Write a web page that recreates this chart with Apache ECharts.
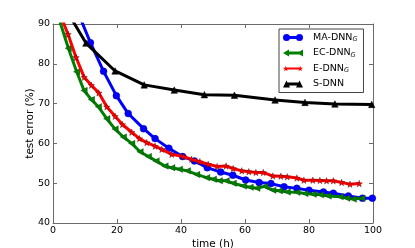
<!DOCTYPE html>
<html>
<head>
<meta charset="utf-8">
<script src="https://cdn.jsdelivr.net/npm/echarts@6/dist/echarts.min.js"></script>
<style>html,body{margin:0;padding:0;background:#fff;}#c{width:415px;height:248px;}</style>
</head>
<body>
<div id="c"></div>
<script>
// ---- data ----
var seriesNames = ['MA-DNN_G', 'EC-DNN_G', 'E-DNN_G', 'S-DNN'];
var xTicks = [0, 20, 40, 60, 80, 100];
var yTicks = [40, 50, 60, 70, 80, 90];

var maX = [7.5, 11.7, 15.8, 19.8, 23.5, 28.3, 31.9, 36.2, 40.5, 44.2, 48.2, 52.4, 56.2, 60.2, 64.4, 68.1, 72.2, 76.2, 80.0, 84.5, 87.6, 92.3, 96.7, 99.8];
var maY = [93.5, 85.3, 78.1, 72.0, 67.5, 63.7, 61.2, 58.8, 56.7, 55.6, 53.9, 52.8, 52.0, 50.8, 50.2, 49.9, 49.1, 48.7, 48.25, 47.8, 47.5, 46.8, 46.25, 46.25];

var ecX = [2.2, 4.8, 7.4, 9.7, 12.0, 14.2, 16.8, 19.4, 22.0, 24.6, 27.2, 29.8, 32.2, 35.0, 37.1, 39.5, 42.0, 44.9, 48.0, 50.1, 52.0, 54.1, 56.3, 59.5, 61.6, 63.7, 66.2, 68.7, 70.7, 73.2, 76.2, 78.7, 81.3, 83.6, 86.0, 89.7, 91.8, 93.8, 96.5];
var ecY = [90.5, 83.9, 78.0, 73.3, 71.0, 69.2, 66.2, 63.6, 61.6, 60.0, 57.9, 56.7, 55.6, 54.3, 53.9, 53.5, 53.1, 52.2, 51.4, 51.0, 50.6, 50.6, 50.0, 49.3, 49.0, 48.75, 49.2, 48.25, 48.1, 47.8, 47.7, 47.4, 47.25, 47.1, 46.8, 46.6, 46.25, 46.0, 46.2];

var eX = [2.2, 4.7, 7.2, 9.75, 12.0, 14.3, 16.8, 19.4, 21.7, 24.6, 27.0, 29.3, 31.9, 34.0, 37.1, 40.7, 43.3, 45.9, 48.5, 51.3, 54.1, 56.3, 59.0, 61.2, 63.4, 65.7, 68.7, 71.2, 73.2, 76.2, 78.4, 81.2, 83.4, 85.5, 87.6, 90.2, 92.8, 95.7];
var eY = [92.5, 87.4, 81.6, 76.6, 74.6, 72.7, 69.2, 66.8, 64.75, 62.8, 61.2, 60.2, 59.3, 58.5, 57.25, 56.7, 56.0, 55.4, 54.75, 54.2, 54.3, 53.7, 53.1, 52.9, 52.7, 52.7, 51.8, 51.75, 51.6, 51.3, 50.75, 50.75, 50.7, 50.6, 50.6, 50.2, 49.75, 49.9];

var sX = [1.2, 10.3, 19.4, 28.5, 37.9, 47.3, 56.7, 69.4, 78.75, 88.1, 99.6];
var sY = [97.5, 85.2, 78.2, 74.7, 73.4, 72.25, 72.1, 70.9, 70.3, 69.9, 69.8];

// ---- helpers ----
function pairs(xs, ys) { return xs.map(function (x, i) { return [x, ys[i]]; }); }
var FONT = 'DejaVu Sans';
var FRAME = '#6a6a6a';
var STAR = 'path://M10,0L12.35,6.76L19.51,6.91L13.8,11.24L15.88,18.09L10,14L4.12,18.09L6.2,11.24L0.49,6.91L7.65,6.76Z';

var iconMA = 'path://M0,3.5A3.5,3.5,0,1,1,7,3.5A3.5,3.5,0,1,1,0,3.5Z M3.5,2L16.5,2L16.5,5L3.5,5Z M13,3.5A3.5,3.5,0,1,1,20,3.5A3.5,3.5,0,1,1,13,3.5Z';
var iconEC = 'path://M0,3.5L6,0L6,7Z M3.5,2L16.5,2L16.5,5L3.5,5Z M14,3.5L20,0L20,7Z';
var iconE = 'path://M1.5,0.3L2.3,2.6L4.8,2.7L2.8,4.2L3.6,6.6L1.5,5.2L-0.6,6.6L0.2,4.2L-1.8,2.7L0.7,2.6Z M1.5,2.4L18.5,2.4L18.5,4.6L1.5,4.6Z M18.5,0.3L19.3,2.6L21.8,2.7L19.8,4.2L20.6,6.6L18.5,5.2L16.4,6.6L17.2,4.2L15.2,2.7L17.7,2.6Z';
var iconS = 'path://M0,7L3.5,0L7,7Z M3.5,2L16.5,2L16.5,5L3.5,5Z M13,7L16.5,0L20,7Z';

function lineSeries(name, xs, ys, color, symbol, size, rotate, z, edge) {
  return {
    name: name, type: 'line', data: pairs(xs, ys),
    symbol: symbol, symbolSize: size, symbolRotate: rotate || 0,
    showAllSymbol: true, clip: true, z: z,
    lineStyle: { color: color, width: 3 },
    itemStyle: { color: color, borderColor: edge, borderWidth: 0.5 },
    emphasis: { disabled: true }, animation: false
  };
}

var richLegend = {
  a: { fontFamily: FONT, fontSize: 9.5, color: '#000', padding: [0, 0, 0, 5] },
  s: { fontFamily: FONT, fontSize: 6.5, fontStyle: 'italic', color: '#000', padding: [4, 0, 0, 0], verticalAlign: 'bottom' }
};

var chart = echarts.init(document.getElementById('c'), null, { renderer: 'canvas' });
chart.setOption({
  backgroundColor: '#fff',
  animation: false,
  grid: { left: 53, right: 42, top: 24, bottom: 25, containLabel: false, outerBoundsMode: 'none' },
  legend: {
    orient: 'vertical', left: 279, top: 29,
    backgroundColor: '#fff', borderColor: '#444', borderWidth: 1, borderRadius: 0,
    padding: [3.5, 6, 3.5, 4], itemGap: 5, itemWidth: 20, itemHeight: 7,
    itemStyle: { borderWidth: 0 },
    data: [
      { name: seriesNames[0], icon: iconMA },
      { name: seriesNames[1], icon: iconEC },
      { name: seriesNames[2], icon: iconE },
      { name: seriesNames[3], icon: iconS }
    ],
    formatter: function (n) {
      var p = n.split('_');
      return p.length > 1 ? '{a|' + p[0] + '}{s|' + p[1] + '}' : '{a|' + p[0] + '}';
    },
    textStyle: { rich: richLegend, fontFamily: FONT, fontSize: 9.5, color: '#000' },
    selectedMode: false
  },
  xAxis: [
    {
      type: 'value', min: xTicks[0], max: xTicks[xTicks.length - 1], interval: 20,
      name: 'time (h)', nameLocation: 'middle', nameGap: 16, nameMoveOverlap: false,
      nameTextStyle: { fontFamily: FONT, fontSize: 10.5, color: '#000' },
      axisLine: { show: true, onZero: false, lineStyle: { color: FRAME, width: 1 } },
      axisTick: { show: true, inside: true, length: 4, lineStyle: { color: FRAME } },
      axisLabel: { fontFamily: FONT, fontSize: 9.5, color: '#000', margin: 3 },
      splitLine: { show: false }
    },
    {
      type: 'value', position: 'top', min: xTicks[0], max: xTicks[xTicks.length - 1], interval: 20,
      axisLine: { show: true, onZero: false, lineStyle: { color: FRAME, width: 1 } },
      axisTick: { show: true, inside: true, length: 4, lineStyle: { color: FRAME } },
      axisLabel: { show: false }, splitLine: { show: false }
    }
  ],
  yAxis: [
    {
      type: 'value', min: yTicks[0], max: yTicks[yTicks.length - 1], interval: 10,
      name: 'test error (%)', nameLocation: 'middle', nameGap: 17, nameRotate: 90, nameMoveOverlap: false,
      nameTextStyle: { fontFamily: FONT, fontSize: 10.5, color: '#000' },
      axisLine: { show: true, onZero: false, lineStyle: { color: FRAME, width: 1 } },
      axisTick: { show: true, inside: true, length: 4, lineStyle: { color: FRAME } },
      axisLabel: { fontFamily: FONT, fontSize: 9.5, color: '#000', margin: 3 },
      splitLine: { show: false }
    },
    {
      type: 'value', position: 'right', min: yTicks[0], max: yTicks[yTicks.length - 1], interval: 10,
      axisLine: { show: true, onZero: false, lineStyle: { color: FRAME, width: 1 } },
      axisTick: { show: true, inside: true, length: 4, lineStyle: { color: FRAME } },
      axisLabel: { show: false }, splitLine: { show: false }
    }
  ],
  series: [
    lineSeries(seriesNames[0], maX, maY, '#0000ff', 'circle', 7, 0, 2, 'rgba(0,0,80,0.6)'),
    lineSeries(seriesNames[1], ecX, ecY, '#008000', 'triangle', 6.5, 90, 3, 'rgba(0,40,0,0.6)'),
    lineSeries(seriesNames[2], eX, eY, '#ff0000', STAR, 6.5, 0, 4, 'rgba(60,0,0,0.7)'),
    lineSeries(seriesNames[3], sX, sY, '#000000', 'triangle', 6.5, 0, 5, '#000')
  ]
});
</script>
</body>
</html>
